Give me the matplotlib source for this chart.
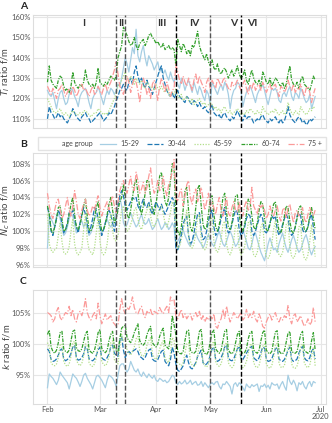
import numpy as np
import pandas as pd
import matplotlib
matplotlib.use("Agg")
import matplotlib.pyplot as plt
import matplotlib.dates as mdates
from matplotlib.lines import Line2D
from matplotlib.ticker import FuncFormatter

plt.rcParams["font.family"] = ["Lato", "DejaVu Sans"]

# daily values, Feb 1 (Sat) .. Jun 28 2020, one row per week (Sat..Fri)
dates = pd.date_range("2020-02-01", "2020-06-28", freq="D")
groups = ["15-29", "30-44", "45-59", "60-74", "75 +"]

ti_15_29 = [124, 122, 121, 123, 119, 115, 120,
            123, 124, 120, 117, 118, 122, 125,
            124, 121, 119, 116, 121, 123, 124,
            125, 122, 118, 115, 120, 122, 123,
            126, 123, 120, 117, 121, 124, 122,
            125, 124, 122, 124, 127, 126, 130,
            135, 140, 137, 133, 139, 145, 142,
            154, 141, 138, 143, 146, 140, 136,
            141, 139, 137, 134, 136, 138, 133,
            135, 132, 134, 131, 129, 133, 130,
            128, 131, 127, 125, 130, 128, 124,
            127, 129, 126, 123, 128, 125, 122,
            126, 124, 121, 119, 124, 122, 117,
            128, 126, 124, 122, 125, 127, 124,
            128, 126, 122, 115, 121, 124, 125,
            128, 127, 124, 116, 120, 123, 125,
            126, 124, 121, 118, 122, 124, 125,
            127, 124, 120, 117, 121, 125, 124,
            125, 123, 119, 118, 122, 123, 121,
            124, 126, 121, 119, 123, 122, 120,
            125, 123, 120, 118, 119, 122, 115,
            118, 121]
ti_30_44 = [110, 116, 113, 112, 110, 111, 113,
            111, 112, 110, 109, 108, 110, 112,
            115, 113, 111, 110, 109, 111, 112,
            113, 111, 110, 108, 109, 110, 111,
            112, 113, 111, 109, 110, 111, 113,
            112, 114, 116, 119, 121, 124, 125,
            127, 125, 124, 128, 130, 127, 133,
            136, 131, 128, 130, 127, 125, 129,
            126, 124, 122, 125, 128, 131, 134,
            136, 130, 127, 124, 122, 121, 123,
            120, 122, 124, 121, 120, 119, 118,
            121, 120, 118, 117, 119, 118, 116,
            118, 116, 115, 116, 114, 113, 115,
            117, 113, 112, 111, 112, 110, 112,
            113, 111, 110, 109, 111, 110, 112,
            114, 112, 110, 109, 112, 110, 111,
            111, 110, 108, 109, 110, 109, 111,
            112, 110, 109, 108, 110, 109, 110,
            111, 109, 108, 110, 108, 109, 112,
            116, 112, 110, 109, 108, 110, 111,
            110, 108, 109, 107, 108, 110, 109,
            110, 111]
ti_45_59 = [120, 118, 116, 114, 113, 113, 114,
            115, 113, 112, 113, 112, 111, 113,
            114, 113, 112, 112, 113, 112, 114,
            114, 113, 112, 111, 112, 113, 113,
            115, 114, 113, 112, 113, 112, 114,
            116, 118, 120, 123, 126, 127, 129,
            131, 133, 130, 128, 131, 129, 127,
            130, 128, 127, 129, 126, 125, 128,
            127, 125, 126, 124, 127, 125, 124,
            126, 124, 123, 125, 122, 121, 123,
            122, 125, 121, 120, 122, 119, 120,
            121, 119, 118, 120, 117, 118, 119,
            120, 118, 117, 118, 116, 117, 118,
            117, 115, 116, 114, 115, 113, 115,
            116, 114, 113, 114, 112, 113, 114,
            115, 114, 112, 113, 112, 114, 113,
            115, 114, 113, 112, 114, 113, 112,
            116, 114, 113, 112, 113, 114, 113,
            115, 113, 112, 113, 114, 112, 113,
            118, 115, 113, 112, 114, 113, 112,
            116, 114, 113, 112, 113, 115, 114,
            116, 115]
ti_60_74 = [128, 136, 129, 127, 126, 125, 129,
            131, 130, 126, 124, 125, 123, 126,
            133, 128, 126, 125, 127, 126, 128,
            134, 129, 127, 126, 127, 125, 128,
            135, 128, 127, 126, 128, 127, 129,
            131, 130, 129, 131, 140, 143, 146,
            155, 153, 151, 148, 146, 147, 150,
            146, 144, 147, 148, 149, 146, 148,
            151, 152, 150, 149, 147, 148, 146,
            145, 147, 144, 145, 146, 144, 145,
            144, 136, 149, 146, 143, 147, 145,
            142, 144, 141, 146, 145, 149, 153,
            146, 143, 141, 139, 142, 138, 136,
            139, 135, 134, 137, 133, 132, 134,
            135, 133, 130, 132, 134, 131, 133,
            136, 132, 130, 131, 134, 129, 127,
            131, 134, 130, 128, 127, 129, 126,
            133, 131, 128, 127, 130, 126, 128,
            130, 129, 127, 126, 128, 125, 127,
            132, 136, 129, 127, 126, 128, 125,
            129, 131, 127, 126, 125, 124, 127,
            131, 129]
ti_75 = [126, 124, 122, 125, 123, 120, 124,
         125, 127, 124, 121, 123, 125, 122,
         126, 124, 121, 123, 126, 127, 124,
         125, 123, 121, 124, 126, 122, 123,
         126, 124, 122, 125, 127, 124, 126,
         128, 131, 134, 138, 132, 126, 124,
         122, 126, 131, 128, 123, 127, 130,
         128, 124, 118, 126, 130, 127, 122,
         125, 120, 127, 129, 124, 119, 126,
         130, 127, 123, 128, 125, 121, 124,
         125, 137, 133, 129, 127, 131, 128,
         126, 130, 127, 124, 129, 132, 127,
         131, 128, 126, 123, 128, 130, 125,
         129, 127, 125, 130, 128, 126, 129,
         130, 127, 125, 124, 128, 126, 127,
         129, 126, 124, 127, 129, 125, 122,
         127, 125, 128, 124, 126, 127, 124,
         128, 126, 123, 125, 127, 124, 126,
         127, 124, 121, 126, 125, 123, 125,
         129, 126, 124, 127, 123, 125, 124,
         127, 124, 121, 125, 126, 123, 118,
         122, 125]

nc_15_29 = [98.0, 101.8, 101.5, 101.0, 100.5, 101.8, 102.0,
            101.5, 100.5, 99.5, 99.8, 100.5, 101.5, 102.0,
            101.8, 100.8, 99.8, 100.0, 101.0, 101.2, 100.5,
            101.0, 100.2, 99.5, 99.8, 100.5, 101.5, 101.8,
            101.5, 100.5, 99.8, 100.2, 101.0, 101.5, 100.8,
            100.5, 101.0, 101.5, 102.5, 103.5, 104.0, 103.0,
            101.0, 100.5, 100.8, 101.5, 102.2, 101.5, 101.0,
            100.5, 100.8, 101.5, 102.0, 101.2, 100.8, 101.0,
            101.5, 100.8, 100.2, 100.5, 101.0, 101.5, 100.8,
            100.2, 100.5, 101.0, 100.8, 100.2, 100.5, 101.0,
            100.5, 98.2, 98.8, 99.2, 99.8, 100.2, 99.5,
            99.0, 98.5, 98.2, 98.8, 99.5, 99.8, 99.2,
            98.8, 98.5, 98.0, 98.5, 99.2, 99.6, 99.0,
            98.5, 98.2, 98.8, 99.5, 100.0, 99.2, 98.5,
            98.2, 98.8, 99.5, 100.0, 99.5, 98.8, 98.2,
            98.5, 99.0, 99.8, 100.2, 99.5, 98.8, 98.0,
            97.8, 98.5, 99.5, 99.8, 99.0, 98.2, 97.5,
            97.0, 96.5, 97.5, 98.5, 99.2, 98.5, 97.8,
            98.0, 97.5, 98.5, 99.2, 99.8, 98.8, 98.0,
            97.5, 98.2, 99.0, 99.5, 98.8, 98.0, 97.5,
            97.8, 98.5, 99.2, 99.6, 98.8, 97.8, 97.2,
            97.8, 98.2]
nc_30_44 = [102.8, 102.0, 100.0, 99.5, 100.5, 101.5, 102.5,
            102.0, 101.0, 99.8, 100.2, 101.0, 102.2, 102.0,
            102.5, 101.5, 100.5, 99.8, 101.0, 102.0, 102.8,
            102.0, 100.8, 99.8, 100.5, 101.5, 102.8, 102.5,
            101.5, 100.5, 99.5, 100.2, 101.0, 101.8, 102.5,
            102.0, 101.0, 100.0, 101.5, 103.0, 104.2, 104.8,
            104.2, 103.0, 102.5, 103.0, 103.5, 104.0, 103.8,
            104.0, 103.0, 102.5, 103.2, 103.8, 103.0, 102.8,
            103.5, 102.5, 102.0, 102.8, 103.5, 103.0, 102.5,
            103.2, 102.5, 102.0, 102.5, 103.0, 103.5, 104.0,
            103.5, 98.0, 97.8, 98.5, 99.5, 100.8, 101.5,
            101.8, 99.5, 98.5, 98.8, 99.8, 101.0, 102.0,
            102.2, 100.0, 99.0, 99.2, 100.0, 101.2, 102.0,
            102.5, 100.5, 99.5, 99.8, 100.5, 101.5, 102.2,
            102.8, 100.5, 99.8, 100.0, 100.8, 101.8, 102.5,
            102.2, 100.2, 99.5, 99.8, 100.5, 101.5, 102.0,
            101.8, 100.0, 99.5, 100.0, 100.8, 101.5, 102.0,
            101.5, 100.0, 99.8, 100.2, 101.0, 101.8, 101.5,
            101.8, 100.2, 99.5, 100.0, 100.8, 101.5, 102.0,
            101.5, 100.0, 99.5, 99.8, 100.5, 101.8, 102.2,
            101.8, 100.2, 99.8, 100.0, 100.5, 101.5, 102.0,
            100.5, 99.0]
nc_45_59 = [102.0, 98.5, 97.8, 97.5, 97.8, 98.0, 99.5,
            101.0, 98.8, 97.5, 97.3, 97.5, 98.2, 100.0,
            101.5, 98.5, 97.5, 97.2, 97.5, 98.0, 100.2,
            102.0, 99.0, 97.8, 97.5, 97.2, 98.0, 99.8,
            101.8, 98.8, 97.5, 97.2, 97.5, 98.5, 100.5,
            102.0, 100.0, 99.0, 98.8, 99.5, 101.0, 102.5,
            103.0, 101.0, 100.0, 100.2, 100.8, 101.5, 102.5,
            102.8, 101.5, 100.5, 100.2, 101.0, 101.8, 102.5,
            103.2, 101.8, 100.8, 100.5, 101.0, 102.0, 102.8,
            103.0, 102.0, 101.0, 100.5, 101.2, 102.2, 103.5,
            103.0, 99.0, 98.0, 98.2, 99.0, 100.2, 101.0,
            102.5, 99.5, 98.2, 98.0, 98.5, 99.8, 101.5,
            102.0, 99.0, 98.0, 97.8, 98.2, 99.5, 101.5,
            101.5, 98.8, 97.8, 97.5, 98.0, 99.0, 100.8,
            101.2, 98.5, 97.5, 97.2, 97.8, 99.0, 100.8,
            100.5, 98.0, 97.2, 97.5, 98.2, 99.5, 101.0,
            101.2, 98.2, 97.2, 97.0, 97.5, 98.8, 100.5,
            101.0, 98.0, 97.0, 96.8, 97.2, 98.5, 100.2,
            101.2, 98.0, 97.2, 97.0, 97.5, 98.8, 100.8,
            101.0, 98.2, 97.0, 96.8, 97.2, 98.5, 100.5,
            100.8, 97.8, 96.8, 96.6, 97.2, 98.8, 100.8,
            99.0, 97.0]
nc_60_74 = [103.0, 102.0, 100.2, 99.8, 100.5, 101.5, 102.8,
            103.0, 101.5, 100.0, 100.2, 100.8, 102.0, 103.2,
            104.0, 102.0, 100.5, 100.2, 100.8, 101.8, 103.0,
            103.8, 101.8, 100.2, 100.0, 100.5, 101.5, 102.8,
            103.5, 101.5, 100.0, 100.2, 100.8, 102.0, 103.2,
            104.0, 102.5, 101.0, 101.5, 102.5, 103.5, 104.0,
            105.5, 104.0, 102.0, 101.5, 102.5, 104.0, 105.5,
            106.2, 104.5, 102.8, 102.0, 103.0, 104.5, 106.0,
            106.0, 104.0, 102.5, 102.0, 103.2, 104.8, 106.5,
            107.0, 105.0, 103.5, 103.0, 104.0, 106.0, 108.0,
            107.5, 102.0, 100.0, 99.5, 100.5, 102.5, 104.8,
            105.2, 102.5, 100.5, 100.0, 101.0, 102.8, 105.0,
            105.5, 103.0, 100.8, 100.2, 100.5, 102.0, 104.0,
            104.2, 102.0, 100.5, 100.0, 100.8, 102.2, 104.0,
            104.5, 102.2, 100.5, 100.2, 101.0, 102.5, 104.2,
            104.3, 102.0, 100.5, 100.0, 100.8, 102.0, 103.8,
            103.5, 101.8, 100.5, 100.2, 101.0, 102.5, 103.5,
            103.2, 101.5, 100.2, 100.0, 100.8, 102.0, 103.2,
            103.5, 101.5, 100.0, 99.8, 100.5, 101.8, 103.0,
            102.8, 101.2, 100.0, 99.8, 100.5, 101.5, 102.8,
            103.0, 101.5, 100.2, 100.0, 100.5, 101.8, 102.8,
            101.5, 100.2]
nc_75 = [104.5, 103.0, 102.0, 101.5, 102.5, 103.5, 103.8,
         102.5, 101.5, 102.0, 103.0, 104.0, 102.5, 101.8,
         103.0, 104.8, 103.5, 102.0, 101.5, 102.5, 103.2,
         103.8, 102.5, 101.8, 102.2, 103.0, 102.5, 103.5,
         104.2, 102.8, 101.8, 102.5, 103.0, 103.5, 102.5,
         103.5, 104.2, 103.0, 102.2, 103.5, 104.8, 105.5,
         106.0, 105.0, 104.5, 105.5, 106.5, 105.0, 104.8,
         107.0, 106.0, 104.5, 105.0, 105.8, 104.5, 105.2,
         106.5, 107.5, 105.5, 104.5, 105.0, 106.0, 104.8,
         105.2, 106.5, 105.0, 104.2, 105.5, 106.2, 107.0,
         108.5, 104.0, 103.5, 104.5, 105.0, 103.0, 104.2,
         105.5, 106.0, 104.0, 103.2, 104.5, 105.0, 103.5,
         104.2, 105.2, 103.8, 102.5, 103.5, 104.5, 103.0,
         103.5, 102.8, 102.0, 103.2, 104.0, 102.5, 101.8,
         103.0, 104.0, 102.2, 101.8, 102.8, 103.5, 102.5,
         102.2, 103.5, 102.0, 101.8, 103.0, 103.6, 102.5,
         102.8, 105.2, 103.0, 102.5, 102.0, 103.2, 102.8,
         103.2, 102.5, 101.5, 102.0, 103.0, 102.2, 101.8,
         102.5, 103.0, 101.8, 101.2, 102.5, 102.8, 101.5,
         102.8, 103.2, 102.0, 101.0, 102.2, 102.5, 101.8,
         102.0, 102.8, 101.5, 101.0, 102.0, 102.8, 102.2,
         101.8, 102.5]

k_15_29 = [93.0, 95.2, 94.8, 94.5, 94.0, 93.5, 94.2,
           95.5, 95.0, 94.6, 94.2, 93.8, 92.8, 94.0,
           95.2, 94.8, 94.5, 93.9, 93.2, 94.0, 95.0,
           95.3, 94.5, 94.0, 93.5, 92.8, 93.8, 94.8,
           95.0, 94.6, 94.2, 93.6, 93.0, 94.2, 95.0,
           94.8, 94.5, 94.0, 93.2, 95.0, 96.5, 96.8,
           96.8, 96.0, 95.5, 96.0, 97.2, 96.5, 95.8,
           95.5, 96.0, 95.2, 94.8, 95.5, 95.0, 94.6,
           95.2, 94.8, 94.5, 95.0, 94.2, 94.0, 94.5,
           94.3, 94.0, 94.2, 93.8, 94.0, 94.5, 95.0,
           94.8, 93.8, 93.5, 94.0, 93.6, 93.8, 94.2,
           93.6, 93.8, 94.2, 93.5, 93.8, 94.0, 93.4,
           93.5, 94.0, 93.2, 93.8, 93.4, 93.0, 93.6,
           93.8, 93.5, 93.9, 94.0, 93.2, 92.8, 93.6,
           93.5, 94.0, 93.6, 93.2, 92.0, 93.5, 93.8,
           93.2, 93.8, 93.5, 93.0, 92.5, 93.6, 93.2,
           93.0, 93.5, 93.2, 93.4, 93.6, 92.4, 93.3,
           93.2, 93.6, 93.0, 93.4, 92.8, 93.8, 93.5,
           93.4, 93.6, 92.8, 93.5, 94.0, 93.2, 92.6,
           95.0, 94.0, 93.5, 94.2, 93.6, 92.5, 93.8,
           93.5, 94.0, 93.2, 92.8, 93.6, 94.0, 93.2,
           94.0, 93.8]
k_30_44 = [99.2, 98.8, 97.5, 97.2, 97.3, 97.6, 98.2,
           99.0, 99.2, 97.6, 97.3, 97.5, 97.8, 98.5,
           99.5, 99.8, 97.8, 97.4, 97.5, 97.8, 98.4,
           99.6, 99.2, 97.6, 97.4, 97.3, 97.6, 98.2,
           99.0, 99.5, 97.8, 97.5, 97.4, 97.8, 98.4,
           99.5, 99.8, 98.5, 98.2, 98.0, 100.5, 101.2,
           99.0, 97.8, 98.5, 98.8, 98.5, 98.8, 99.0,
           99.2, 98.8, 98.0, 97.8, 97.5, 97.8, 98.5,
           99.0, 99.2, 97.6, 97.3, 97.2, 97.5, 98.2,
           98.8, 99.0, 97.2, 96.8, 96.5, 97.5, 99.5,
           98.5, 96.8, 95.8, 95.6, 96.0, 96.5, 97.5,
           98.2, 97.0, 96.2, 96.0, 96.5, 97.0, 98.0,
           98.5, 99.0, 97.0, 96.6, 96.8, 97.2, 98.2,
           99.2, 99.5, 97.5, 97.2, 97.4, 97.8, 98.5,
           99.5, 99.8, 97.8, 97.4, 97.3, 97.6, 98.4,
           99.2, 99.6, 97.6, 97.5, 98.0, 98.5, 99.0,
           99.4, 99.6, 97.8, 97.5, 97.3, 97.8, 98.6,
           99.5, 99.3, 97.6, 97.2, 97.3, 97.6, 98.4,
           99.2, 99.4, 97.6, 97.3, 97.2, 97.5, 98.2,
           99.0, 99.5, 97.5, 97.2, 97.3, 97.6, 98.5,
           99.2, 99.6, 97.8, 97.4, 97.3, 97.8, 98.8,
           99.2, 97.6]
k_45_59 = [100.2, 99.5, 97.0, 96.6, 96.5, 96.8, 97.8,
           99.8, 100.0, 97.2, 96.6, 96.4, 96.8, 98.0,
           100.2, 100.4, 97.4, 96.8, 96.5, 96.9, 98.0,
           100.0, 99.8, 97.0, 96.5, 96.4, 96.8, 97.8,
           99.8, 100.2, 97.2, 96.7, 96.5, 96.9, 98.0,
           100.2, 100.5, 97.5, 97.0, 96.8, 99.5, 101.5,
           100.5, 100.8, 99.0, 98.5, 98.2, 98.8, 99.5,
           100.8, 101.2, 99.0, 98.2, 98.0, 98.5, 99.8,
           100.5, 101.0, 98.5, 97.8, 97.5, 98.0, 99.2,
           100.0, 100.5, 97.8, 97.2, 97.0, 98.5, 101.0,
           100.5, 98.5, 97.0, 96.8, 96.5, 97.0, 98.5,
           100.0, 100.2, 97.2, 96.6, 96.4, 96.8, 98.2,
           99.8, 100.2, 97.0, 96.5, 96.3, 96.8, 98.0,
           100.0, 100.4, 97.2, 96.6, 96.4, 96.8, 98.0,
           99.8, 100.2, 97.0, 96.5, 96.2, 96.6, 97.8,
           99.6, 100.0, 96.8, 96.2, 96.5, 97.2, 98.5,
           99.8, 100.0, 97.0, 96.4, 96.2, 96.6, 97.8,
           99.6, 100.0, 96.8, 96.3, 96.1, 96.5, 97.8,
           99.8, 100.1, 96.9, 96.3, 96.2, 96.6, 97.8,
           99.5, 99.9, 96.8, 96.2, 96.1, 96.5, 97.6,
           99.6, 100.0, 97.0, 96.4, 96.2, 96.6, 98.0,
           99.5, 96.5]
k_60_74 = [101.5, 102.2, 99.5, 98.8, 98.5, 99.0, 100.2,
           101.8, 102.0, 99.2, 98.8, 98.6, 99.0, 100.5,
           102.0, 102.2, 99.4, 98.9, 98.8, 99.2, 100.4,
           101.6, 102.0, 99.0, 98.7, 98.5, 99.0, 100.2,
           101.8, 102.3, 99.3, 98.8, 98.6, 99.0, 100.5,
           101.5, 102.0, 99.5, 99.0, 98.8, 100.8, 102.5,
           102.8, 103.0, 101.0, 100.5, 100.2, 100.8, 101.8,
           102.5, 103.2, 100.5, 100.0, 99.8, 100.2, 101.5,
           102.2, 102.8, 100.2, 99.8, 99.5, 100.0, 101.2,
           102.0, 102.5, 99.8, 99.5, 99.2, 101.0, 104.5,
           103.0, 101.5, 98.8, 98.5, 98.4, 98.8, 100.5,
           102.0, 102.2, 99.0, 98.6, 98.5, 98.8, 100.2,
           102.0, 102.3, 99.0, 98.5, 98.3, 98.8, 100.4,
           101.8, 102.2, 99.2, 98.8, 98.5, 99.0, 100.5,
           102.0, 102.3, 99.0, 98.6, 98.4, 98.8, 100.2,
           101.5, 102.0, 98.8, 98.5, 98.6, 99.2, 100.8,
           101.8, 102.0, 99.0, 98.7, 98.5, 99.0, 100.5,
           101.8, 102.2, 99.0, 98.6, 98.4, 98.8, 100.4,
           101.9, 102.1, 98.9, 98.5, 98.4, 98.9, 100.3,
           101.7, 102.0, 98.8, 98.6, 98.5, 98.8, 100.2,
           101.5, 102.0, 99.0, 98.7, 98.5, 98.8, 100.5,
           101.8, 99.0]
k_75 = [105.0, 104.8, 104.5, 103.5, 104.0, 105.2, 105.8,
        104.2, 103.8, 104.5, 105.0, 104.8, 106.0, 104.5,
        105.5, 104.0, 103.5, 104.8, 105.2, 104.5, 105.5,
        107.2, 105.0, 104.2, 103.8, 104.5, 105.0, 104.0,
        106.5, 104.5, 103.2, 104.0, 104.8, 103.8, 104.2,
        104.5, 103.5, 103.2, 102.8, 103.0, 105.5, 107.2,
        105.5, 104.8, 105.8, 105.5, 106.2, 107.5, 105.8,
        105.0, 104.8, 105.5, 106.0, 104.8, 104.2, 105.2,
        104.8, 105.5, 104.5, 105.2, 105.0, 104.8, 105.8,
        105.2, 104.8, 105.5, 106.0, 105.0, 107.5, 106.8,
        107.0, 104.5, 104.0, 104.8, 105.5, 104.2, 104.8,
        104.0, 104.5, 104.8, 103.8, 104.5, 105.0, 104.2,
        105.2, 103.8, 104.5, 103.5, 104.2, 103.8, 104.5,
        104.0, 104.8, 102.8, 102.5, 103.5, 104.0, 105.5,
        104.0, 106.0, 104.5, 103.5, 104.2, 105.0, 104.5,
        104.0, 104.5, 105.0, 103.8, 104.2, 105.5, 104.2,
        104.8, 104.2, 105.2, 104.0, 103.5, 104.8, 104.0,
        102.8, 102.5, 103.5, 104.2, 104.8, 103.8, 104.5,
        105.0, 104.0, 103.5, 104.2, 103.8, 104.5, 104.2,
        106.2, 104.0, 103.2, 104.5, 104.8, 103.5, 104.0,
        104.5, 103.5, 102.8, 103.2, 104.0, 103.0, 103.5,
        105.8, 103.5]

panels = [
    ("A", "$T_I$ ratio f/m", [ti_15_29, ti_30_44, ti_45_59, ti_60_74, ti_75],
     [110, 120, 130, 140, 150, 160], (105.5, 161)),
    ("B", "$N_c$ ratio f/m", [nc_15_29, nc_30_44, nc_45_59, nc_60_74, nc_75],
     [96, 98, 100, 102, 104, 106, 108], (95.8, 109.3)),
    ("C", "$k$ ratio f/m", [k_15_29, k_30_44, k_45_59, k_60_74, k_75],
     [95, 100, 105], (90.4, 108.6)),
]

colors = ["#a6cee3", "#1f78b4", "#b2df8a", "#33a02c", "#fb9a99"]
styles = ["-", (0, (4, 1.5)), (0, (1, 1.2)), (0, (3, 1, 1, 1)), (0, (5, 1.5, 1, 1.5))]

# phase boundaries and labels
breaks = ["2020-03-10", "2020-03-15", "2020-04-12", "2020-05-01", "2020-05-18"]
break_colors = ["#555555", "#555555", "black", "#555555", "black"]
phases = ["I", "II", "III", "IV", "V", "VI"]
phase_pos = ["2020-02-21", "2020-03-13", "2020-04-04", "2020-04-22", "2020-05-14", "2020-05-24"]

fig = plt.figure(figsize=(3.32, 4.23), dpi=100)
boxes = [(0.6974, 0.9645), (0.3695, 0.6390), (0.0449, 0.3144)]
left, right = 0.0994, 0.982
ax_w_px = (right - left) * 332

for (letter, ylab, series, yticks, ylim), (b, t) in zip(panels, boxes):
    ax = fig.add_axes([left, b, right - left, t - b])
    for vals, name, c, ls in zip(series, groups, colors, styles):
        ax.plot(dates, vals, color=c, linestyle=ls, lw=0.9, label=name)
    for d, bc in zip(breaks, break_colors):
        ax.axvline(pd.Timestamp(d), color=bc, ls=(0, (3.5, 1.5)), lw=1.0, zorder=5)
    ax.set_xlim(pd.Timestamp("2020-01-24"), pd.Timestamp("2020-07-04"))
    ax.set_ylim(*ylim)
    ax.set_yticks(yticks)
    ax.yaxis.set_major_formatter(FuncFormatter(lambda v, p: f"{v:.0f}%"))
    ax.set_xticks(pd.date_range("2020-02-01", "2020-07-01", freq="MS"))
    ax.grid(True, color="#e6e6e6", lw=0.8)
    ax.set_axisbelow(True)
    for s in ax.spines.values():
        s.set_color("#dddddd")
        s.set_linewidth(0.8)
    ax.tick_params(length=0, labelsize=5.5, labelcolor="#555555", pad=1.5)
    ax.set_ylabel(ylab, fontsize=6.8, color="#444444", va="center")
    ax.yaxis.set_label_coords(-(33 - 6.0) / ax_w_px, 0.5)
    ax.annotate(letter, xy=(0, 1), xycoords="axes fraction", xytext=(-13, 8.5),
                textcoords="offset pixels", fontsize=7.5, fontweight="bold",
                color="#222222", ha="left", va="center")
    if letter == "A":
        for ph, pos in zip(phases, phase_pos):
            ax.text(pd.Timestamp(pos), 157, ph, ha="center", va="center",
                    fontsize=7.5, fontweight="bold", color="#333333")
    if letter == "C":
        ax.set_xticklabels(["Feb", "Mar", "Apr", "May", "Jun", "Jul\n2020"],
                           linespacing=0.95)
    else:
        ax.set_xticklabels([])

handles = [Line2D([], [], color="none")]
handles += [Line2D([], [], color=c, ls=ls, lw=0.9) for c, ls in zip(colors, styles)]
fig.legend(handles, ["age group"] + groups, ncol=6, loc="center",
           bbox_to_anchor=(0.548, 1 - 143.5 / 423), fontsize=5.0,
           frameon=True, edgecolor="#dddddd", handlelength=2.2,
           columnspacing=1.15, handletextpad=0.7, borderpad=0.5,
           labelcolor="#444444", fancybox=False)

fig.savefig("out.png", dpi=100)
